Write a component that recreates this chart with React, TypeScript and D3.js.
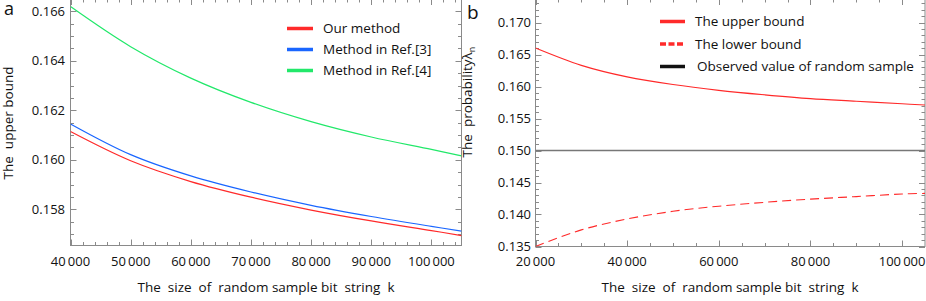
import React from "react";
import * as d3 from "d3";

// Panel a data
const kA = [40000, 50000, 60000, 70000, 80000, 90000, 100000, 105000];
const ourMethod = [0.16114, 0.15996, 0.15912, 0.15849, 0.15797, 0.15753, 0.15714, 0.15694];
const ref3Method = [0.16145, 0.16021, 0.15935, 0.1587, 0.15816, 0.15771, 0.15731, 0.15712];
const ref4Method = [0.16619, 0.16457, 0.1633, 0.16232, 0.16154, 0.16092, 0.16042, 0.16016];
const xTicksA = [40000, 50000, 60000, 70000, 80000, 90000, 100000];
const yTicksA = [0.158, 0.16, 0.162, 0.164, 0.166];
const legendA = ["Our method", "Method in Ref.[3]", "Method in Ref.[4]"];

// Panel b data
const kB = [20000, 30000, 40000, 50000, 60000, 70000, 80000, 90000, 100000, 105000];
const upperBound = [0.166, 0.1633, 0.1615, 0.1603, 0.1594, 0.1587, 0.1581, 0.1577, 0.1573, 0.1571];
const lowerBound = [0.135, 0.1376, 0.1393, 0.1405, 0.1413, 0.1419, 0.1424, 0.1428, 0.1432, 0.1433];
const observedValue = 0.15;
const xTicksB = [20000, 40000, 60000, 80000, 100000];
const yTicksB = [0.135, 0.14, 0.145, 0.15, 0.155, 0.16, 0.165, 0.17];
const legendB = ["The upper bound", "The lower bound", "Observed value of random sample"];

const FONT = "'Open Sans', 'DejaVu Sans', sans-serif";
const FRAME = "#8a8a8a";
const RED = "#ff2a2a";
const BLUE = "#1a66ff";
const GREEN = "#22e86a";

const fmtK = (v: number) => {
  const s = String(v);
  return s.slice(0, s.length - 3) + "\u2009" + s.slice(s.length - 3);
};

function range(a: number, b: number, step: number) {
  const out: number[] = [];
  for (let v = a; v <= b + step * 1e-6; v += step) out.push(+v.toFixed(6));
  return out;
}

type FrameProps = {
  x: d3.ScaleLinear<number, number>;
  y: d3.ScaleLinear<number, number>;
  left: number; right: number; top: number; bottom: number;
  xMajor: number[]; xMinor: number[]; yMajor: number[]; yMinor: number[];
  yFmt: (v: number) => string; yLabelX: number;
};

function Frame(p: FrameProps) {
  const els: React.ReactNode[] = [];
  const M = 6, m = 3.5;
  p.xMinor.forEach((v, i) => {
    const xx = Math.round(p.x(v)) + 0.5;
    if (xx < p.left || xx > p.right) return;
    els.push(<line key={"xb" + i} x1={xx} x2={xx} y1={p.bottom} y2={p.bottom - m} stroke={FRAME} />);
    els.push(<line key={"xt" + i} x1={xx} x2={xx} y1={p.top} y2={p.top + m} stroke={FRAME} />);
  });
  p.xMajor.forEach((v, i) => {
    const xx = Math.round(p.x(v)) + 0.5;
    els.push(<line key={"XB" + i} x1={xx} x2={xx} y1={p.bottom} y2={p.bottom - M} stroke={FRAME} />);
    els.push(<line key={"XT" + i} x1={xx} x2={xx} y1={p.top} y2={p.top + M} stroke={FRAME} />);
    els.push(
      <text key={"XL" + i} x={p.x(v)} y={266} textAnchor="middle" fontSize={13} fontFamily={FONT} fill="#111">
        {fmtK(v)}
      </text>
    );
  });
  p.yMinor.forEach((v, i) => {
    const yy = Math.round(p.y(v)) + 0.5;
    if (yy < p.top || yy > p.bottom) return;
    els.push(<line key={"yl" + i} x1={p.left} x2={p.left + m} y1={yy} y2={yy} stroke={FRAME} />);
    els.push(<line key={"yr" + i} x1={p.right} x2={p.right - m} y1={yy} y2={yy} stroke={FRAME} />);
  });
  p.yMajor.forEach((v, i) => {
    const yy = Math.round(p.y(v)) + 0.5;
    els.push(<line key={"YL" + i} x1={p.left} x2={p.left + M} y1={yy} y2={yy} stroke={FRAME} />);
    els.push(<line key={"YR" + i} x1={p.right} x2={p.right - M} y1={yy} y2={yy} stroke={FRAME} />);
    els.push(
      <text key={"YT" + i} x={p.yLabelX} y={p.y(v) + 4.5} textAnchor="end" fontSize={13} fontFamily={FONT} fill="#111">
        {p.yFmt(v)}
      </text>
    );
  });
  return (
    <g>
      <rect x={p.left} y={p.top} width={p.right - p.left} height={p.bottom - p.top} fill="none" stroke={FRAME} />
      {els}
    </g>
  );
}

export default function App() {
  // Panel a
  const aL = 70.5, aR = 461.5, aT = -1, aB = 245.5;
  const xA = d3.scaleLinear().domain([40000, 105000]).range([70.5, 461.5]);
  const yA = d3.scaleLinear().domain([0.158, 0.166]).range([209.3, 11.3]);
  const lineA = (vals: number[]) =>
    d3.line<number>().x((_, i) => xA(kA[i])).y((v) => yA(v)).curve(d3.curveCatmullRom.alpha(0.5))(vals) || "";

  // Panel b
  const bL = 535.5, bR = 925, bT = -1, bB = 246.5;
  const xB = d3.scaleLinear().domain([20000, 105000]).range([535.5, 925]);
  const yB = d3.scaleLinear().domain([0.135, 0.17]).range([246.5, 22.5]);
  const lineB = (vals: number[]) =>
    d3.line<number>().x((_, i) => xB(kB[i])).y((v) => yB(v)).curve(d3.curveCatmullRom.alpha(0.5))(vals) || "";

  const colorsA = [RED, BLUE, GREEN];
  const seriesA = [ourMethod, ref3Method, ref4Method];

  return (
    <svg width={926} height={301} style={{ position: "absolute", left: 0, top: 0, background: "#fff" }}>
      <defs>
        <clipPath id="clipA"><rect x={aL} y={0} width={aR - aL} height={aB} /></clipPath>
        <clipPath id="clipB"><rect x={bL} y={0} width={bR - bL} height={bB} /></clipPath>
      </defs>

      {/* Panel a */}
      <Frame x={xA} y={yA} left={aL} right={aR} top={aT} bottom={aB}
        xMajor={xTicksA} xMinor={range(40000, 105000, 2000)}
        yMajor={yTicksA} yMinor={range(0.1565, 0.1665, 0.0005)}
        yFmt={d3.format(".3f")} yLabelX={65} />
      <g clipPath="url(#clipA)">
        {seriesA.map((s, i) => (
          <path key={i} d={lineA(s)} fill="none" stroke={colorsA[i]} strokeWidth={1.2} />
        ))}
      </g>
      {legendA.map((t, i) => (
        <g key={t}>
          <line x1={287} x2={313} y1={28.5 + i * 21} y2={28.5 + i * 21} stroke={colorsA[i]} strokeWidth={3.5} />
          <text x={323} y={33 + i * 21} fontSize={13.5} fontFamily={FONT} fill="#111">{t}</text>
        </g>
      ))}
      <text x={13} y={123} transform="rotate(-90 13 123)" textAnchor="middle" fontSize={13.5} fontFamily={FONT} fill="#111" style={{ whiteSpace: "pre" }}>
        {"The  upper bound"}
      </text>
      <text x={266} y={292} textAnchor="middle" fontSize={13.5} fontFamily={FONT} fill="#111" style={{ whiteSpace: "pre" }}>
        {"The  size  of  random sample bit  string  k"}
      </text>
      <text x={4} y={15} fontSize={18} fontFamily={FONT} fill="#111">a</text>

      {/* Panel b */}
      <Frame x={xB} y={yB} left={bL} right={bR} top={bT} bottom={bB}
        xMajor={xTicksB} xMinor={range(20000, 105000, 5000)}
        yMajor={yTicksB} yMinor={range(0.135, 0.174, 0.001)}
        yFmt={d3.format(".3f")} yLabelX={531} />
      <g clipPath="url(#clipB)">
        <line x1={bL} x2={bR} y1={yB(observedValue)} y2={yB(observedValue)} stroke="#777" strokeWidth={1.6} />
        <path d={lineB(upperBound)} fill="none" stroke={RED} strokeWidth={1.1} />
        <path d={lineB(lowerBound)} fill="none" stroke={RED} strokeWidth={1.1} strokeDasharray="9,5" />
      </g>
      {legendB.map((t, i) => (
        <g key={t}>
          <line x1={660} x2={685} y1={21.5 + i * 22.5} y2={21.5 + i * 22.5}
            stroke={i === 2 ? "#111" : RED} strokeWidth={3.5} strokeDasharray={i === 1 ? "6,2.5" : undefined} />
          <text x={i === 2 ? 697 : 695} y={26 + i * 22.5} fontSize={13.5} fontFamily={FONT} fill="#111">{t}</text>
        </g>
      ))}
      <text x={472} y={102} transform="rotate(-90 472 102)" textAnchor="middle" fontSize={13.5} fontFamily={FONT} fill="#111" style={{ whiteSpace: "pre" }}>
        {"The  probability"}
        <tspan>λ</tspan>
        <tspan fontSize={9} dy={3}>n</tspan>
      </text>
      <text x={730} y={292} textAnchor="middle" fontSize={13.5} fontFamily={FONT} fill="#111" style={{ whiteSpace: "pre" }}>
        {"The  size  of  random sample bit  string  k"}
      </text>
      <text x={467} y={19} fontSize={19} fontFamily={FONT} fill="#111">b</text>
    </svg>
  );
}
